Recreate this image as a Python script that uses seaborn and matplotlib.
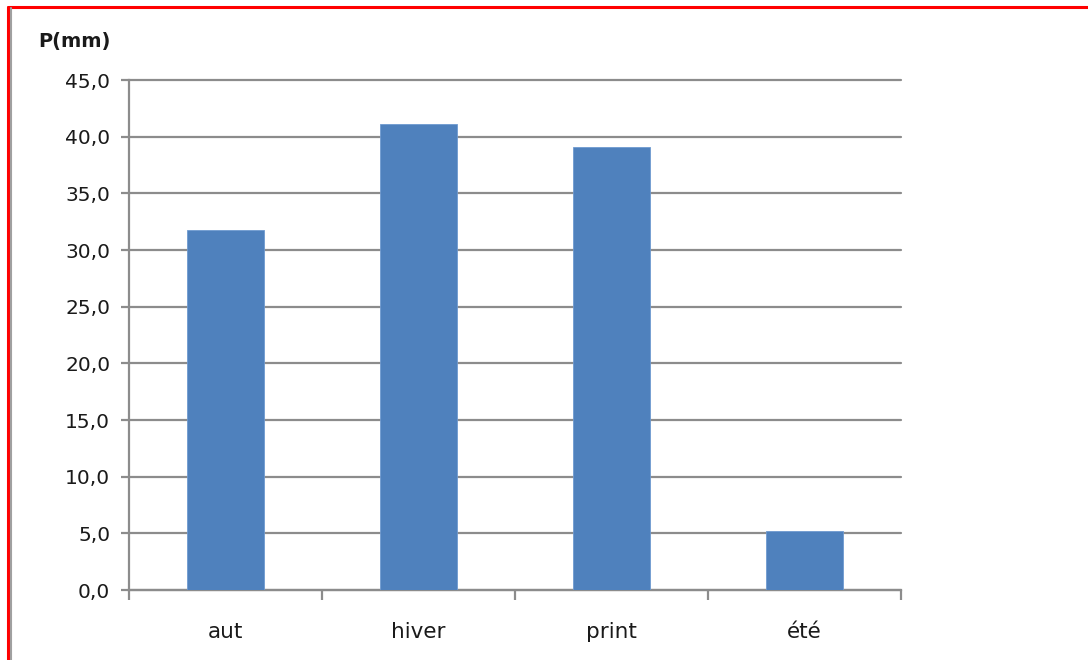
import matplotlib
matplotlib.use("Agg")
import matplotlib.pyplot as plt
import seaborn as sns
import pandas as pd
from matplotlib.ticker import FuncFormatter, FixedLocator
from matplotlib.lines import Line2D

categories = ["aut", "hiver", "print", "été"]
values = [31.8, 41.1, 39.1, 5.2]
yticks = [0, 5, 10, 15, 20, 25, 30, 35, 40, 45]

sns.set_theme(style="white")
plt.rcParams['font.family'] = ['DejaVu Sans']

W, H = 1088, 660
fig = plt.figure(figsize=(W / 100, H / 100), dpi=100)
ax = fig.add_axes([129 / W, 1 - 590 / H, (901 - 129) / W, (590 - 80) / H])

df = pd.DataFrame({"cat": categories, "val": values})
sns.barplot(data=df, x="cat", y="val", color="#4F81BD", saturation=1,
            width=0.4, ax=ax, zorder=3, edgecolor="#6f9ad0", linewidth=0.6)

ax.set_ylim(0, 45)
ax.set_xlim(-0.5, len(categories) - 0.5)
ax.set_yticks(yticks)
ax.yaxis.set_major_formatter(FuncFormatter(lambda v, p: f"{v:.1f}".replace(".", ",")))
ax.yaxis.grid(True, color="#8c8c8c", linewidth=1.6, zorder=0)
ax.set_axisbelow(True)
ax.set_xlabel("")
ax.set_ylabel("")

for s in ["top", "right"]:
    ax.spines[s].set_visible(False)
for s in ["left", "bottom"]:
    ax.spines[s].set_color("#8c8c8c")
    ax.spines[s].set_linewidth(1.6)

ax.tick_params(axis="y", which="major", length=5.5, width=1.6, color="#8c8c8c",
               labelsize=14.5, labelcolor="#1a1a1a", pad=8, direction="out", left=True)
ax.tick_params(axis="x", which="major", length=0, labelsize=15.5,
               labelcolor="#1a1a1a", pad=23)
ax.xaxis.set_minor_locator(FixedLocator([i - 0.5 for i in range(len(categories) + 1)]))
ax.tick_params(axis="x", which="minor", length=7, width=1.6, color="#8c8c8c",
               direction="out", bottom=True)
for gl in ax.get_ygridlines():
    gl.set_clip_on(False)

fig.text(38 / W, 1 - 42 / H, "P(mm)", fontsize=14, fontweight="bold",
         color="#1a1a1a", ha="left", va="center")

# frame lines
fig.add_artist(Line2D([8 / W, 1], [1 - 6.5 / H, 1 - 6.5 / H], transform=fig.transFigure,
                      color="red", linewidth=2.2))
fig.add_artist(Line2D([8 / W, 8 / W], [0, 1 - 6.5 / H], transform=fig.transFigure,
                      color="red", linewidth=2.2))
fig.add_artist(Line2D([10.5 / W, 10.5 / W], [0, 1 - 8 / H], transform=fig.transFigure,
                      color="#a0a0a0", linewidth=1.5))

fig.savefig("out.png", dpi=100)
